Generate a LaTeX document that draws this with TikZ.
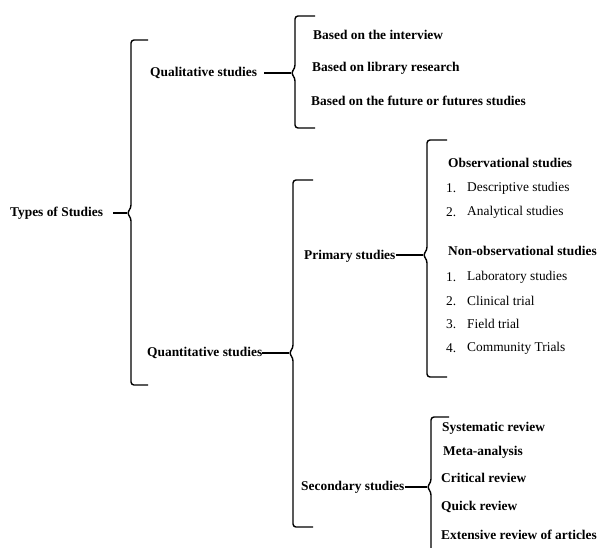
\documentclass[tikz,border=0pt]{standalone}
\usepackage{fontspec}
\setmainfont{Liberation Serif}
\begin{document}
\begin{tikzpicture}[x=1pt,y=-1pt,
  lbl/.style={anchor=west, inner sep=0pt, font=\fontsize{13.4}{15}\selectfont\bfseries},
  itm/.style={anchor=west, inner sep=0pt, font=\fontsize{13.4}{15}\selectfont},
  brk/.style={line width=1.4pt, rounded corners=3pt},
  lnk/.style={line width=1.4pt}]
\useasboundingbox (0,0) rectangle (599,547);
\newcommand\mybrace[5]{%
  \draw[brk] (#1+#5,#2) -- (#1,#2) -- (#1,#3-5) -- (#1-4,#3) -- (#1,#3+5) -- (#1,#4) -- (#1+#5,#4);}

% labels
\node[lbl] (types) at (10,213) {Types of Studies};
\node[lbl] (qual) at (150,73) {Qualitative studies};
\node[lbl] (quant) at (147,353) {Quantitative studies};
\node[lbl] (prim) at (304,256) {Primary studies};
\node[lbl] (sec) at (301,487) {Secondary studies};

% braces
\mybrace{131}{40}{213}{385}{17}
\mybrace{295}{16}{73}{128}{20}
\mybrace{293}{180}{353}{527}{20}
\mybrace{427}{140}{255}{377}{20}
\mybrace{431}{417}{487}{552}{18}

\coordinate (t1) at (127,213);
\coordinate (t2) at (291,73);
\coordinate (t3) at (289,353);
\coordinate (t4) at (423,255);
\coordinate (t5) at (427,487);

\draw[lnk] (types.east) ++(10,0) -- (t1);
\draw[lnk] (qual.east) ++(7,0) -- (t2);
\draw[lnk] (quant.east |- t3) -- (t3);
\draw[lnk] (prim.east |- t4) -- (t4);
\draw[lnk] (sec.east |- t5) -- (t5);

% qualitative items
\node[lbl] (q1) at (313,35) {Based on the interview};
\node[lbl] (q2) at (312,68) {Based on library research};
\node[lbl] (q3) at (311,101) {Based on the future or futures studies};

% primary items
\node[lbl] (obs) at (448,163) {Observational studies};
\node[itm] (o1n) at (446,188) {1.};
\node[itm] (o1) at (467,188) {Descriptive studies};
\node[itm] (o2n) at (446,212) {2.};
\node[itm] (o2) at (467,212) {Analytical studies};
\node[lbl] (nobs) at (448,251) {Non-observational studies};
\node[itm] (n1n) at (446,277) {1.};
\node[itm] (n1) at (467,277) {Laboratory studies};
\node[itm] (n2n) at (446,301) {2.};
\node[itm] (n2) at (467,301) {Clinical trial};
\node[itm] (n3n) at (446,324) {3.};
\node[itm] (n3) at (467,324) {Field trial};
\node[itm] (n4n) at (446,348) {4.};
\node[itm] (n4) at (467,348) {Community Trials};

% secondary items
\node[lbl] (s1) at (442,428) {Systematic review};
\node[lbl] (s2) at (443,452) {Meta-analysis};
\node[lbl] (s3) at (441,478) {Critical review};
\node[lbl] (s4) at (441,507) {Quick review};
\node[lbl] (s5) at (441,535) {Extensive review of articles};
\end{tikzpicture}
\end{document}
